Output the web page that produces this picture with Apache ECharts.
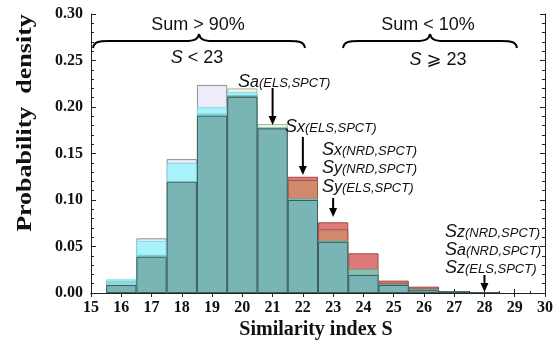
<!DOCTYPE html>
<html><head><meta charset="utf-8">
<script src="https://cdn.jsdelivr.net/npm/echarts@6/dist/echarts.min.js"></script>
<style>html,body{margin:0;padding:0;background:#fff}#c{width:558px;height:352px}</style>
</head><body><div id="c"></div>
<script>
// bins (similarity index S)
const bins = [16, 17, 18, 19, 20, 21, 22, 23, 24, 25, 26, 27, 28];
// visible histogram layers, back to front
const lavender  = [null, 0.0588, 0.144, 0.2237, null, null, null, null, null, null, null, null, null];
const pale      = [null, null, null, null, 0.220, 0.1817, null, null, null, null, null, null, null];
const red       = [null, null, null, null, null, null, 0.125, 0.076, 0.0427, 0.0133, 0.0068, null, null];
const orange    = [null, null, null, null, null, null, 0.1215, 0.0685, null, 0.0110, 0.0050, null, null];
const cyan      = [0.0147, 0.056, 0.140, 0.1997, 0.216, null, null, null, null, null, null, null, null];
const cyan2     = [0.0125, 0.041, null, 0.193, 0.213, null, null, null, null, null, null, null, null];
const greenTeal = [null, null, null, null, 0.212, 0.178, 0.1018, 0.0565, 0.0258, 0.0097, 0.004, null, null];
const teal      = [0.0086, 0.039, 0.1197, 0.1907, 0.211, 0.177, 0.100, 0.055, 0.0194, 0.0086, 0.003, 0.002, 0.001];
const xTicks = [15,16,17,18,19,20,21,22,23,24,25,26,27,28,29,30];
const yTicks = [0, 0.05, 0.10, 0.15, 0.20, 0.25, 0.30];

const layers = [
  {name:'lavender', d:lavender, c:'#ececfb', b:'#8f8f99'},
  {name:'pale', d:pale, c:'#eef4e2', b:'#a9b8a2'},
  {name:'red', d:red, c:'#e07a7a', b:'#a04848'},
  {name:'orange', d:orange, c:'#d3886d', b:'#9c5a47'},
  {name:'cyan', d:cyan, c:'#a8f2fb', b:'#8ad8e0'},
  {name:'cyan2', d:cyan2, c:'#8fdde3', b:'#7ccbd2'},
  {name:'greenTeal', d:greenTeal, c:'#82c2ae', b:'#6aa896'},
  {name:'teal', d:teal, c:'#79b5b4', b:'#3e5c5c'}
];

const chart = echarts.init(document.getElementById('c'), null, {renderer:'canvas'});
const G = {left:91, right:13, top:14, bottom:59};
const barW = (558 - G.left - G.right) / (xTicks[xTicks.length-1] - xTicks[0]);
const series = layers.map(l => ({
  type:'bar', name:l.name, barWidth: barW, barGap:'-100%',
  data: bins.map((b,i) => l.d[i] == null ? null : [b, l.d[i]]).filter(v => v),
  itemStyle:{color:l.c, borderColor:l.b, borderWidth:1},
  emphasis:{disabled:true}, animation:false
}));

const axisFont = {fontFamily:'Liberation Serif', fontWeight:'bold', fontSize:16, color:'#111'};
chart.setOption({
  animation:false,
  grid:G,
  xAxis:[{type:'value', min:15, max:30, interval:1,
    axisLine:{lineStyle:{color:'#222', width:1}},
    axisTick:{inside:true, length:4, lineStyle:{color:'#222'}},
    minorTick:{show:true, splitNumber:2, length:2, lineStyle:{color:'#222'}},
    splitLine:{show:false},
    axisLabel:Object.assign({margin:7}, axisFont)},
   {type:'value', position:'top', min:15, max:30, interval:1,
    axisLine:{lineStyle:{color:'#222'}}, axisTick:{inside:true, length:4, lineStyle:{color:'#222'}},
    axisLabel:{show:false}, splitLine:{show:false}}],
  yAxis:[{type:'value', min:0, max:0.30, interval:0.05,
    axisLine:{show:true, lineStyle:{color:'#222'}},
    axisTick:{show:true, inside:true, length:5, lineStyle:{color:'#222'}},
    minorTick:{show:true, splitNumber:5, length:3, lineStyle:{color:'#222'}},
    splitLine:{show:false},
    axisLabel:Object.assign({margin:8, formatter:v => v.toFixed(2)}, axisFont)},
   {type:'value', position:'right', min:0, max:0.30, interval:0.05,
    axisLine:{show:true, lineStyle:{color:'#222'}},
    axisTick:{show:true, inside:true, length:5, lineStyle:{color:'#222'}},
    minorTick:{show:true, splitNumber:5, length:3, lineStyle:{color:'#222'}},
    axisLabel:{show:false}, splitLine:{show:false}}],
  series:series
});

// annotations
const sans = 'Liberation Sans, Arial, DejaVu Sans';
function lbl(x, y, v, sub){
  return {type:'text', x:x, y:y, z:100, style:{
    text:'{s|S}{v|'+v+'}{p|('+sub+')}', textVerticalAlign:'middle', fill:'#111',
    rich:{s:{fontFamily:sans, fontStyle:'italic', fontSize:18, verticalAlign:'bottom', fill:'#111'},
          v:{fontFamily:sans, fontStyle:'italic', fontSize:16, verticalAlign:'bottom', fill:'#111'},
          p:{fontFamily:sans, fontStyle:'italic', fontSize:13, verticalAlign:'bottom', fill:'#111', padding:[0,0,1,0]}}}};
}
function arrow(xv, y0, y1){
  const x = chart.convertToPixel({xAxisIndex:0}, xv);
  return [
    {type:'line', z:100, shape:{x1:x, y1:y0, x2:x, y2:y1-7}, style:{stroke:'#000', lineWidth:2}},
    {type:'polygon', z:100, shape:{points:[[x-4,y1-9],[x+4,y1-9],[x,y1]]}, style:{fill:'#000'}}
  ];
}
function brace(x0, x1, yE, yF, yT){
  const xm = (x0+x1)/2, st = {stroke:'#000', lineWidth:2, fill:null};
  return [
    {type:'bezierCurve', z:100, shape:{x1:x0, y1:yE, cpx1:x0+1, cpy1:yF+1, cpx2:x0+5, cpy2:yF, x2:x0+16, y2:yF}, style:st},
    {type:'line', z:100, shape:{x1:x0+16, y1:yF, x2:xm-14, y2:yF}, style:st},
    {type:'bezierCurve', z:100, shape:{x1:xm-14, y1:yF, cpx1:xm-4, cpy1:yF, cpx2:xm-1, cpy2:yF-2, x2:xm, y2:yT}, style:st},
    {type:'bezierCurve', z:100, shape:{x1:xm, y1:yT, cpx1:xm+1, cpy1:yF-2, cpx2:xm+4, cpy2:yF, x2:xm+14, y2:yF}, style:st},
    {type:'line', z:100, shape:{x1:xm+14, y1:yF, x2:x1-16, y2:yF}, style:st},
    {type:'bezierCurve', z:100, shape:{x1:x1-16, y1:yF, cpx1:x1-5, cpy1:yF, cpx2:x1-1, cpy2:yF+1, x2:x1, y2:yE}, style:st}
  ];
}
function ctext(x, y, t, rich){
  return {type:'text', x:x, y:y, z:100, style:{text:t, textAlign:'center', textVerticalAlign:'middle',
    font:'18px '+sans, fill:'#111', rich:rich}};
}
const sRich = {i:{fontFamily:sans, fontStyle:'italic', fontSize:18, fill:'#111'}, n:{fontFamily:sans, fontSize:18, fill:'#111'}};
const gfx = [].concat(
  brace(93, 305, 48, 41, 34),
  brace(343, 517, 48, 41, 34),
  [ctext(198, 25, 'Sum > 90%'), ctext(197, 58, '{i|S}{n| < 23}', sRich),
   ctext(428, 25, 'Sum < 10%'), ctext(438, 60, '{i|S}{n| ⩾ 23}', sRich),
   lbl(238, 82, 'a', 'ELS,SPCT'),
   lbl(285, 127, 'x', 'ELS,SPCT'),
   lbl(322, 150, 'x', 'NRD,SPCT'),
   lbl(322, 168, 'y', 'NRD,SPCT'),
   lbl(322, 187, 'y', 'ELS,SPCT'),
   lbl(445, 232, 'z', 'NRD,SPCT'),
   lbl(445, 250, 'a', 'NRD,SPCT'),
   lbl(445, 268, 'z', 'ELS,SPCT')],
  arrow(21, 88, 125), arrow(22, 137, 175), arrow(23, 198, 217), arrow(28, 275, 292),
  [{type:'text', x:26, y:123, rotation:Math.PI/2, scaleX:1.3, z:100, style:{text:'Probability  density',
     textAlign:'center', textVerticalAlign:'middle', font:'bold 20px Liberation Serif', fill:'#111'}},
   {type:'text', x:316, y:330, z:100, style:{text:'Similarity index S', textAlign:'center', textVerticalAlign:'middle',
     font:'bold 20px Liberation Serif', fill:'#111'}}]
);
chart.setOption({graphic:{elements:gfx}});
</script></body></html>
